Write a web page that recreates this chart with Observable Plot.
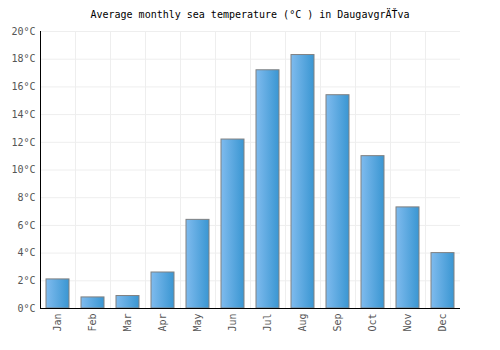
<!DOCTYPE html>
<html><head><meta charset="utf-8">
<script src="https://cdn.jsdelivr.net/npm/d3@7"></script>
<script src="https://cdn.jsdelivr.net/npm/@observablehq/plot@0.6"></script>
<style>
body{margin:0;background:#fff;}
#wrap{position:relative;width:500px;height:350px;font-family:"DejaVu Sans Mono",monospace;}
#title{position:absolute;top:9px;left:0;width:500px;text-align:center;font-size:10px;color:#000;}
</style></head>
<body><div id="wrap"><div id="title">Average monthly sea temperature (°C ) in DaugavgrÄŤva</div><div id="chart"></div></div>
<script>
const months = ["Jan","Feb","Mar","Apr","May","Jun","Jul","Aug","Sep","Oct","Nov","Dec"];
const temps = [2.1, 0.8, 0.9, 2.6, 6.4, 12.2, 17.2, 18.3, 15.4, 11.0, 7.3, 4.0];
const yTicks = [0,2,4,6,8,10,12,14,16,18,20];
const data = months.map((m,i)=>({month:m, temp:temps[i]}));

const chart = Plot.plot({
  width:500, height:350,
  marginLeft:40, marginRight:40, marginTop:31, marginBottom:42,
  style:{fontFamily:"'DejaVu Sans Mono', monospace", fontSize:"10px", color:"#555", background:"#fff"},
  x:{domain:months, paddingInner:0.33, paddingOuter:0.165, label:null, tickSize:0, tickRotate:-90, tickPadding:5},
  y:{domain:[0,20], ticks:yTicks, label:null, tickSize:0, tickPadding:5, tickFormat:d=>d+"°C"},
  marks:[
    Plot.gridY(yTicks, {stroke:"#eeeeee", strokeOpacity:1}),
    Plot.ruleX(months.slice(0,11), {x:d=>d, dx:17.5, stroke:"#eeeeee", strokeOpacity:1}),
    Plot.barY(data, {x:"month", y:"temp", fill:"url(#barGrad)", stroke:"#808080", strokeWidth:1}),
    Plot.ruleY([0], {stroke:"#000"}),
    Plot.ruleX([months[0]], {dx:-17.5, stroke:"#000"})
  ]
});
const svg = d3.select(chart);
const defs = svg.insert("defs", ":first-child");
const g = defs.append("linearGradient").attr("id","barGrad").attr("x1","0").attr("x2","1").attr("y1","0").attr("y2","0");
g.append("stop").attr("offset","0%").attr("stop-color","#7fbbee");
g.append("stop").attr("offset","100%").attr("stop-color","#3a96d2");
document.getElementById("chart").appendChild(chart);
</script></body></html>
